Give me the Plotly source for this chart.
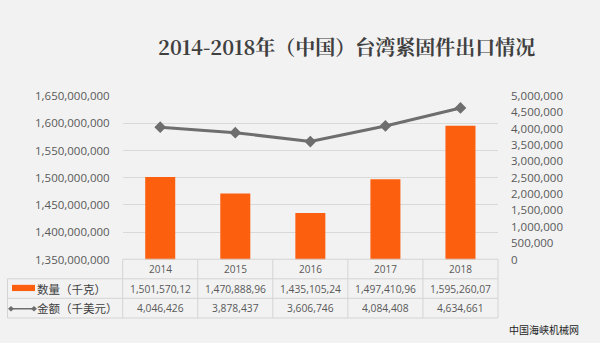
import plotly.graph_objects as go

years = ["2014", "2015", "2016", "2017", "2018"]
quantity_kg = [1501570120, 1470888960, 1435105240, 1497410960, 1595260070]
amount_kusd = [4046426, 3878437, 3606746, 4084408, 4634661]
title_text = "2014-2018年（中国）台湾紧固件出口情况"
row1_label = "数量（千克）"
row2_label = "金额（千美元）"
watermark = "中国海峡机械网"

W, H = 600, 343
def px(x):
    return x / W
def py(y):
    return 1 - y / H

BAR = "#FC5F0E"
LINE = "#6E6E6E"
GRID = "#D9D9D9"
BORDER = "#D4D4D4"
TXT = "#595959"
BG = "#F2F2F2"
FONT = "Noto Sans CJK SC"

x0p, x1p = 122.7, 498.0
y_top, y_bot = 92.0, 263.0

fig = go.Figure()
fig.add_trace(go.Bar(x=years, y=quantity_kg, marker=dict(color=BAR, line=dict(width=0)),
                     width=0.4, yaxis="y", showlegend=False, hoverinfo="skip"))
fig.add_trace(go.Scatter(x=years, y=amount_kusd, mode="lines+markers", yaxis="y2",
                         line=dict(color=LINE, width=3),
                         marker=dict(symbol="diamond", size=9, color=LINE),
                         showlegend=False, hoverinfo="skip"))

shapes = []
ann = []

def hline(y, xa, xb):
    shapes.append(dict(type="line", xref="paper", yref="paper", x0=px(xa), x1=px(xb),
                       y0=py(y), y1=py(y), line=dict(color=BORDER, width=1)))
def vline_paper(x, ya, yb):
    shapes.append(dict(type="line", xref="paper", yref="paper", x0=px(x), x1=px(x),
                       y0=py(ya), y1=py(yb), line=dict(color=BORDER, width=1)))

r0, r1, r2, r3 = 262.7, 283.2, 303.6, 324.2
hline(r0, x0p, x1p)
hline(r1, 7.5, x1p)
hline(r2, 7.5, x1p)
hline(r3, 7.5, x1p)
vline_paper(7.5, r1, r3)
vline_paper(x0p, r0, r3)
vline_paper(x1p, r0, r3)
for k in range(1, len(years)):
    shapes.append(dict(type="line", xref="x", yref="paper", x0=k - 0.5, x1=k - 0.5,
                       y0=py(r0), y1=py(r3), line=dict(color=BORDER, width=1)))

# legend keys inside table
shapes.append(dict(type="rect", xref="paper", yref="paper", x0=px(12), x1=px(35),
                   y0=py(296), y1=py(289.5), fillcolor=BAR, line=dict(width=0)))
ly = 314.5
shapes.append(dict(type="line", xref="paper", yref="paper", x0=px(11), x1=px(34),
                   y0=py(ly), y1=py(ly), line=dict(color=LINE, width=1.5)))
for cx in (11, 34):
    d = 3
    path = (f"M {px(cx-d)} {py(ly)} L {px(cx)} {py(ly-d)} L {px(cx+d)} {py(ly)} "
            f"L {px(cx)} {py(ly+d)} Z")
    shapes.append(dict(type="path", xref="paper", yref="paper", path=path,
                       fillcolor=LINE, line=dict(width=0)))

ann.append(dict(text=row1_label, x=px(35), y=py((r1 + r2) / 2), xref="paper", yref="paper",
                xanchor="left", yanchor="middle", showarrow=False,
                font=dict(family=FONT, size=11.5, color="#404040")))
ann.append(dict(text=row2_label, x=px(35), y=py((r2 + r3) / 2), xref="paper", yref="paper",
                xanchor="left", yanchor="middle", showarrow=False,
                font=dict(family=FONT, size=11.5, color="#404040")))

for i, yr in enumerate(years):
    ann.append(dict(text=yr, x=i, y=py((r0 + r1) / 2 + 0.5), xref="x", yref="paper",
                    xanchor="center", yanchor="middle", showarrow=False,
                    font=dict(family="Open Sans", size=10, color=TXT)))
    qtxt = f"{quantity_kg[i]:,}"[:12]
    ann.append(dict(text=qtxt, x=i, y=py((r1 + r2) / 2), xref="x", yref="paper",
                    xanchor="center", yanchor="middle", showarrow=False,
                    font=dict(family="Open Sans", size=10.3, color=TXT)))
    ann.append(dict(text=f"{amount_kusd[i]:,}", x=i, y=py((r2 + r3) / 2), xref="x", yref="paper",
                    xanchor="center", yanchor="middle", showarrow=False,
                    font=dict(family="Open Sans", size=10.3, color=TXT)))

ann.append(dict(text=title_text, x=px(346), y=py(40), xref="paper", yref="paper",
                xanchor="center", yanchor="middle", showarrow=False,
                font=dict(family="Noto Serif CJK SC, Liberation Serif, serif", size=20,
                          color="#404040", weight="bold")))
ann.append(dict(text=watermark, x=px(507), y=py(336), xref="paper", yref="paper",
                xanchor="left", yanchor="middle", showarrow=False,
                font=dict(family=FONT, size=10, color="#222222")))

fig.update_layout(
    width=W, height=H,
    margin=dict(l=0, r=0, t=0, b=0),
    paper_bgcolor=BG, plot_bgcolor=BG,
    font=dict(family="Open Sans", color=TXT),
    xaxis=dict(type="category", domain=[px(x0p), px(x1p)], range=[-0.5, 4.5],
               showticklabels=False, showgrid=False, zeroline=False, showline=False,
               fixedrange=True),
    yaxis=dict(domain=[py(y_bot), py(y_top)], range=[1.35e9, 1.65e9], dtick=5e7,
               tickformat=",d", showgrid=True, gridcolor=GRID, gridwidth=1,
               zeroline=False, showline=False, ticklabelstandoff=12,
               tickfont=dict(family="Open Sans", size=11.5, color=TXT)),
    yaxis2=dict(domain=[py(y_bot), py(y_top)], range=[0, 5e6], dtick=5e5, overlaying="y",
                side="right", anchor="x", tickformat=",d", showgrid=False, zeroline=False,
                showline=False, ticklabelstandoff=12,
                tickfont=dict(family="Open Sans", size=11.5, color=TXT)),
    shapes=shapes, annotations=ann,
)

fig.write_html("out.html")
